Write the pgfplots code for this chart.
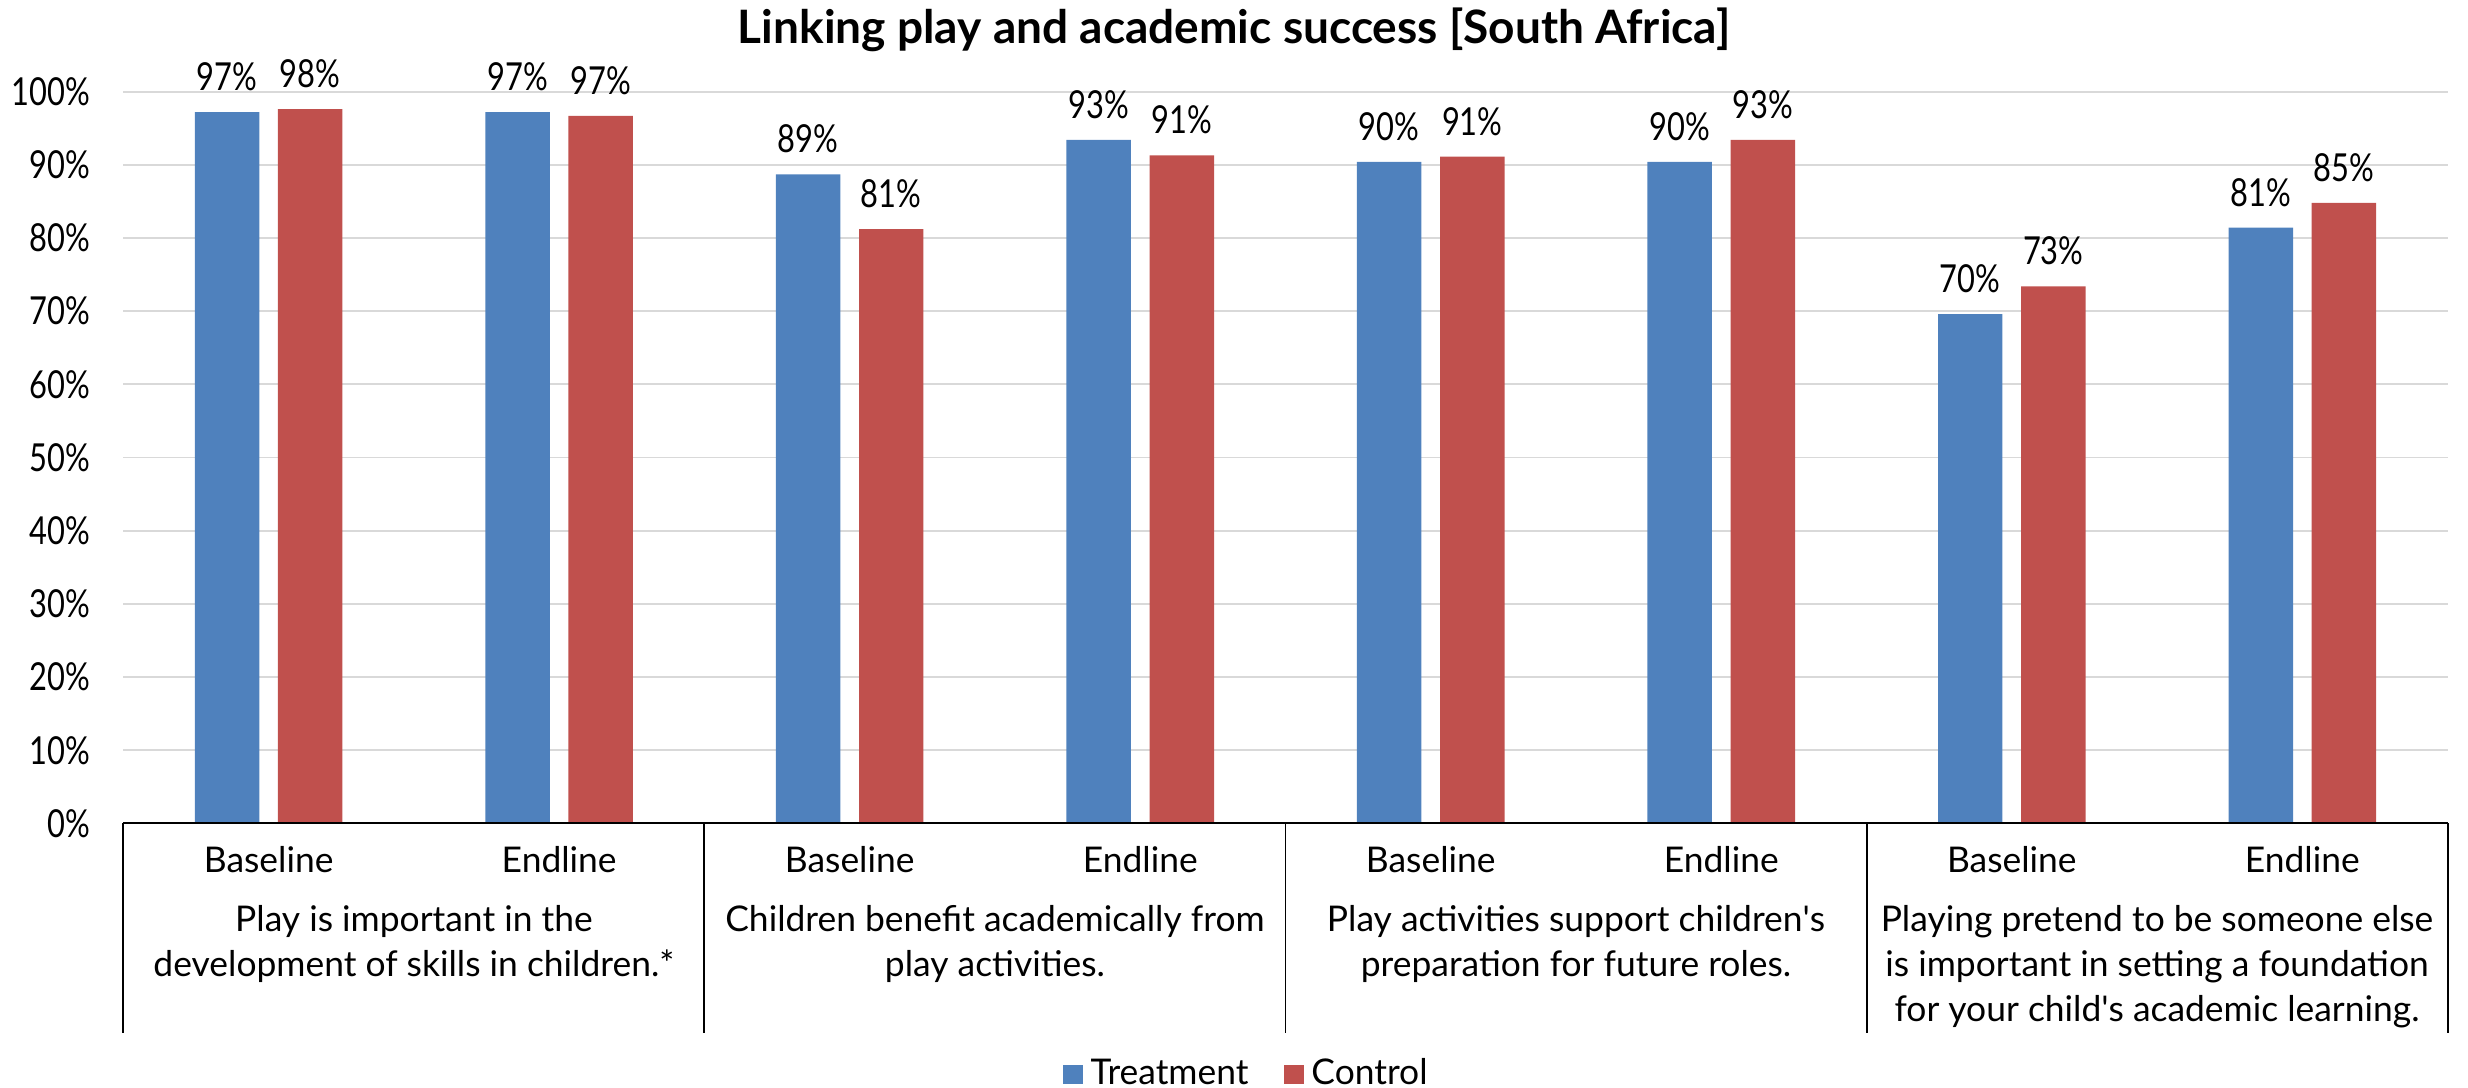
\documentclass[border=0pt]{standalone}
\usepackage{fontspec}
\setmainfont{Lato}
\newfontfamily\numfont{Lato}[FakeStretch=0.8]
\newfontfamily\titlefont{Lato}
\usepackage{pgfplots}
\pgfplotsset{compat=1.18}
\definecolor{tblue}{HTML}{4F81BD}
\definecolor{cred}{HTML}{C0504D}
\definecolor{gridgray}{HTML}{D9D9D9}
\pgfplotstableread{
x y
-0.143 97.2
0.857 97.2
1.857 88.7
2.857 93.4
3.857 90.4
4.857 90.4
5.857 69.6
6.857 81.4
}\treat
\pgfplotstableread{
x y
0.143 97.6
1.143 96.7
2.143 81.2
3.143 91.3
4.143 91.1
5.143 93.4
6.143 73.4
7.143 84.8
}\ctrl
\newcommand{\numsize}{\numfont\fontsize{9.8}{12}\selectfont}
\newcommand{\txtsize}{\fontsize{9}{11.4}\selectfont}
\begin{document}
\begin{tikzpicture}
\begin{axis}[
  width=590.64pt, height=185.96pt, scale only axis,
  xmin=-0.5, xmax=7.5, ymin=0, ymax=100,
  axis line style={draw=none},
  xtick=\empty,
  ytick={0,10,...,100},
  yticklabels={0\%,10\%,20\%,30\%,40\%,50\%,60\%,70\%,80\%,90\%,100\%},
  yticklabel style={font=\numsize, anchor=east, inner sep=0pt, xshift=-8.2pt},
  major tick length=0pt,
  ymajorgrids, grid style={gridgray, line width=0.5pt},
  clip=false,
  ybar,
  bar width=0.222,
  point meta=y,
  nodes near coords={\pgfmathprintnumber[fixed,precision=0,assume math mode=true]{\pgfplotspointmeta}\%},
  every node near coord/.append style={font=\numsize, anchor=base, yshift=5.5pt, inner sep=0pt},
  legend style={at={(rel axis cs:0.4844,-0.343)}, anchor=center, draw=none, fill=none,
    legend columns=2, font=\txtsize, inner sep=0pt, overlay,
    /tikz/every even column/.append style={column sep=7pt}},
]
\addplot[bar shift=0pt, fill=tblue, draw=none,
  legend image code/.code={\fill[tblue] (0pt,-2.5pt) rectangle (5pt,2.5pt);}] table[x=x,y=y] {\treat};
\addplot[bar shift=0pt, fill=cred, draw=none,
  legend image code/.code={\fill[cred] (0pt,-2.5pt) rectangle (5pt,2.5pt);}] table[x=x,y=y] {\ctrl};
\legend{Treatment, Control}

\draw[black, line width=0.5pt] (axis cs:-0.5,0) -- (axis cs:7.5,0);
\draw[black, line width=0.5pt] (axis cs:-0.5,0) -- ([yshift=-53.2pt]axis cs:-0.5,0);
\draw[black, line width=0.5pt] (axis cs:1.5,0) -- ([yshift=-53.2pt]axis cs:1.5,0);
\draw[black, line width=0.5pt] (axis cs:3.5,0) -- ([yshift=-53.2pt]axis cs:3.5,0);
\draw[black, line width=0.5pt] (axis cs:5.5,0) -- ([yshift=-53.2pt]axis cs:5.5,0);
\draw[black, line width=0.5pt] (axis cs:7.5,0) -- ([yshift=-53.2pt]axis cs:7.5,0);

\node[font=\txtsize, anchor=base, inner sep=0pt] at ([yshift=-12.4pt]axis cs:0,0) {Baseline};
\node[font=\txtsize, anchor=base, inner sep=0pt] at ([yshift=-12.4pt]axis cs:1,0) {Endline};
\node[font=\txtsize, anchor=base, inner sep=0pt] at ([yshift=-12.4pt]axis cs:2,0) {Baseline};
\node[font=\txtsize, anchor=base, inner sep=0pt] at ([yshift=-12.4pt]axis cs:3,0) {Endline};
\node[font=\txtsize, anchor=base, inner sep=0pt] at ([yshift=-12.4pt]axis cs:4,0) {Baseline};
\node[font=\txtsize, anchor=base, inner sep=0pt] at ([yshift=-12.4pt]axis cs:5,0) {Endline};
\node[font=\txtsize, anchor=base, inner sep=0pt] at ([yshift=-12.4pt]axis cs:6,0) {Baseline};
\node[font=\txtsize, anchor=base, inner sep=0pt] at ([yshift=-12.4pt]axis cs:7,0) {Endline};

\node[font=\txtsize, anchor=base, inner sep=0pt] at ([yshift=-27.6pt]axis cs:0.5,0) {Play is important in the};
\node[font=\txtsize, anchor=base, inner sep=0pt] at ([yshift=-39.0pt]axis cs:0.5,0) {development of skills in children.*};
\node[font=\txtsize, anchor=base, inner sep=0pt] at ([yshift=-27.6pt]axis cs:2.5,0) {Children benefit academically from};
\node[font=\txtsize, anchor=base, inner sep=0pt] at ([yshift=-39.0pt]axis cs:2.5,0) {play activities.};
\node[font=\txtsize, anchor=base, inner sep=0pt] at ([yshift=-27.6pt]axis cs:4.5,0) {Play activities support children\textquotesingle s};
\node[font=\txtsize, anchor=base, inner sep=0pt] at ([yshift=-39.0pt]axis cs:4.5,0) {preparation for future roles.};
\node[font=\txtsize, anchor=base, inner sep=0pt] at ([yshift=-27.6pt]axis cs:6.5,0) {Playing pretend to be someone else};
\node[font=\txtsize, anchor=base, inner sep=0pt] at ([yshift=-39.0pt]axis cs:6.5,0) {is important in setting a foundation};
\node[font=\txtsize, anchor=base, inner sep=0pt] at ([yshift=-50.4pt]axis cs:6.5,0) {for your child\textquotesingle s academic learning.};

\node[font=\titlefont\bfseries\fontsize{11.7}{14}\selectfont, anchor=base, inner sep=0pt] at ([yshift=12.2pt]rel axis cs:0.4778,1) {Linking play and academic success [South Africa]};
\end{axis}
\path ([xshift=-31.36pt,yshift=-67.16pt]current axis.south west) rectangle ([xshift=5.2pt,yshift=23.28pt]current axis.north east);
\end{tikzpicture}
\end{document}
